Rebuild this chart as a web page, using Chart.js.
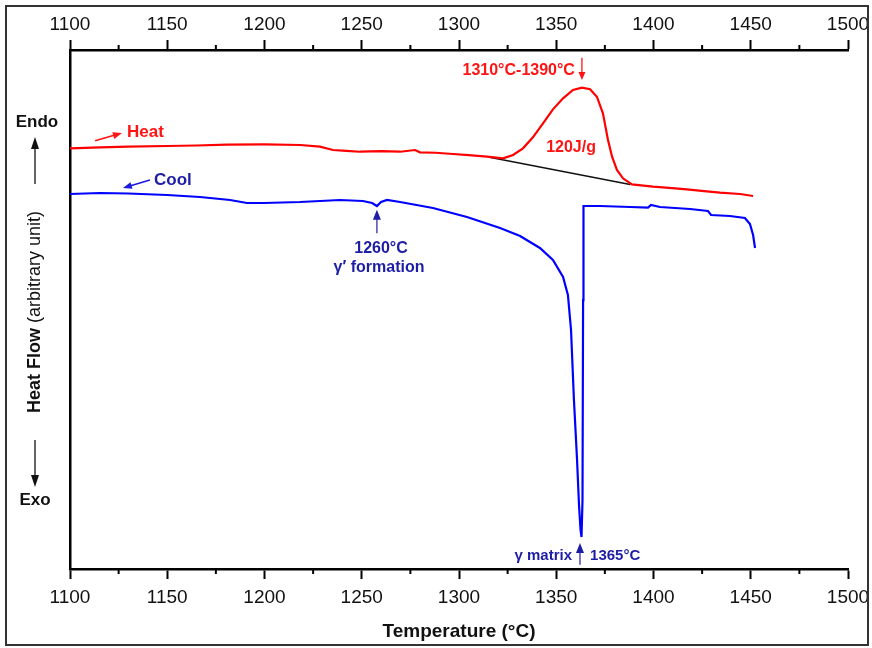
<!DOCTYPE html>
<html>
<head>
<meta charset="utf-8">
<script src="https://cdn.jsdelivr.net/npm/chart.js@4/dist/chart.umd.min.js"></script>
<style>
html,body{margin:0;padding:0;background:#fff;}
#wrap{width:872px;height:648px;}
</style>
</head>
<body>
<div id="wrap"><canvas id="c" width="872" height="648"></canvas></div>
<script>
// ---- data (temperature in °C, heat flow in arbitrary units) ----
const heatT = [1100,1115.4,1130,1149.9,1165,1180.7,1200,1218.3,1228.5,1235.2,1242,1249.1,1260,1269.7,1277.4,1279.9,1288,1296.9,1305,1314.4,1322.6,1327.8,1332.9,1338.0,1343.2,1348.3,1353.5,1358.6,1363.2,1367.4,1370.9,1374.0,1376.6,1378.7,1381.2,1384.3,1388.9,1399.7,1408,1417.2,1426,1434.2,1444.5,1451.2];
const heatV = [81.06,81.25,81.40,81.50,81.60,81.76,81.80,81.70,81.37,80.73,80.55,80.40,80.50,80.40,80.73,80.29,80.20,79.96,79.75,79.44,79.13,79.77,81.06,83.18,85.88,88.57,90.69,92.29,92.74,92.43,91.0,87.8,82.66,79.44,76.88,75.28,74.12,73.66,73.45,73.16,72.80,72.51,72.25,71.87];
const coolT = [1100,1115.4,1130,1149.9,1166.8,1182.3,1191.0,1199.7,1218.3,1238.8,1250.6,1255.3,1257.8,1259.9,1263.0,1269.7,1286.6,1304.1,1321.1,1331.4,1341.6,1348.3,1353.5,1356.0,1357.6,1359.1,1360.7,1361.7,1362.5,1363.0,1363.5,1363.8,1364.0,1372.5,1388.0,1397.2,1398.7,1403.3,1418.8,1428.0,1429.6,1439.3,1447.0,1449.6,1451.2,1452.2];
const coolV = [72.25,72.45,72.35,72.06,71.68,71.10,70.52,70.52,70.71,71.10,70.91,70.52,69.94,70.71,71.10,70.71,69.56,67.82,65.70,64.16,61.85,59.54,56.26,52.79,46.05,32.56,21.0,12.33,7.51,6.17,13.29,51.8,69.94,69.94,69.75,69.65,70.13,69.75,69.36,68.98,68.21,68.02,67.63,66.47,64.35,61.85];
const baseT = [1315,1388];
const baseV = [79.4,74.1];
const tempTicks = [1100,1150,1200,1250,1300,1350,1400,1450,1500];
const minorTicks = [1125,1175,1225,1275,1325,1375,1425,1475];

const pts = (xs, ys) => xs.map((x, i) => ({x: x, y: ys[i]}));
const FONT = "'Liberation Sans', Arial, sans-serif";
const RED = '#ff1414';
const NAVY = '#1d1da6';

function arrow(ctx, x1, y1, x2, y2, color, lw, hl, hw) {
  const a = Math.atan2(y2 - y1, x2 - x1);
  ctx.save();
  ctx.strokeStyle = color; ctx.fillStyle = color; ctx.lineWidth = lw;
  ctx.beginPath();
  ctx.moveTo(x1, y1);
  ctx.lineTo(x2 - hl * 0.8 * Math.cos(a), y2 - hl * 0.8 * Math.sin(a));
  ctx.stroke();
  ctx.beginPath();
  ctx.moveTo(x2, y2);
  ctx.lineTo(x2 - hl * Math.cos(a) + hw * Math.sin(a), y2 - hl * Math.sin(a) - hw * Math.cos(a));
  ctx.lineTo(x2 - hl * Math.cos(a) - hw * Math.sin(a), y2 - hl * Math.sin(a) + hw * Math.cos(a));
  ctx.closePath();
  ctx.fill();
  ctx.restore();
}

const decor = {
  id: 'decor',
  beforeDraw(chart) {
    const ctx = chart.ctx;
    ctx.save();
    ctx.fillStyle = '#fff';
    ctx.fillRect(0, 0, chart.width, chart.height);
    ctx.restore();
  },
  afterDraw(chart) {
    const ctx = chart.ctx;
    const xs = chart.scales.x, ys = chart.scales.y, ca = chart.chartArea;
    const X = v => xs.getPixelForValue(v), Y = v => ys.getPixelForValue(v);
    ctx.save();
    // minor ticks
    ctx.strokeStyle = '#000'; ctx.lineWidth = 2;
    minorTicks.forEach(t => {
      const px = X(t);
      ctx.beginPath(); ctx.moveTo(px, ca.top); ctx.lineTo(px, ca.top - 5); ctx.stroke();
      ctx.beginPath(); ctx.moveTo(px, ca.bottom); ctx.lineTo(px, ca.bottom + 5); ctx.stroke();
    });
    // x title
    ctx.fillStyle = '#111';
    ctx.textAlign = 'center'; ctx.textBaseline = 'middle';
    ctx.font = 'bold 19px ' + FONT;
    ctx.fillText('Temperature (\u00B0C)', (ca.left + ca.right) / 2, 632);
    // y title (rotated)
    ctx.save();
    ctx.translate(35, 312);
    ctx.rotate(-Math.PI / 2);
    ctx.font = 'bold 18px ' + FONT;
    const t1 = 'Heat Flow ';
    const w1 = ctx.measureText(t1).width;
    ctx.font = '18px ' + FONT;
    const t2 = '(arbitrary unit)';
    const w2 = ctx.measureText(t2).width;
    let sx = -(w1 + w2) / 2;
    ctx.textAlign = 'left';
    ctx.font = 'bold 18px ' + FONT;
    ctx.fillText(t1, sx, 0);
    ctx.font = '18px ' + FONT;
    ctx.fillText(t2, sx + w1, 0);
    ctx.restore();
    // Endo / Exo
    ctx.font = 'bold 17px ' + FONT;
    ctx.fillStyle = '#111';
    ctx.textAlign = 'center';
    ctx.fillText('Endo', 37, 122);
    ctx.fillText('Exo', 35, 500);
    arrow(ctx, 35, 184, 35, 137, '#111', 1.3, 12, 4);
    arrow(ctx, 35, 440, 35, 487, '#111', 1.3, 12, 4);

    // Heat / Cool labels
    ctx.font = 'bold 17px ' + FONT;
    ctx.textAlign = 'left';
    ctx.fillStyle = RED;
    ctx.fillText('Heat', X(1129.3), Y(84.2));
    arrow(ctx, X(1112.9), Y(82.5), X(1126.7), Y(84.0), RED, 1.6, 9, 3.5);
    ctx.fillStyle = NAVY;
    ctx.fillText('Cool', X(1143.2), Y(74.95));
    arrow(ctx, X(1141.1), Y(74.95), X(1127.2), Y(73.4), '#1a1ae0', 1.6, 9, 3.5);

    // peak annotation
    ctx.fillStyle = RED;
    ctx.font = 'bold 16px ' + FONT;
    ctx.textAlign = 'right';
    ctx.fillText('1310\u00B0C-1390\u00B0C', X(1359.6), Y(96.0));
    arrow(ctx, X(1363.2), Y(98.5), X(1363.2), Y(94.2), RED, 1.3, 8, 3.5);
    ctx.textAlign = 'center';
    ctx.font = 'bold 16px ' + FONT;
    ctx.fillText('120J/g', X(1357.6), Y(81.1));

    // gamma prime
    ctx.fillStyle = NAVY;
    ctx.font = 'bold 16px ' + FONT;
    ctx.textAlign = 'center';
    ctx.fillText('1260\u00B0C', X(1259.9), Y(61.8));
    ctx.fillText('\u03B3\u2032 formation', X(1258.9), Y(58.0));
    arrow(ctx, X(1257.8), Y(64.7), X(1257.8), Y(69.2), NAVY, 1.2, 10, 4);

    // gamma matrix
    ctx.font = 'bold 15px ' + FONT;
    ctx.textAlign = 'right';
    ctx.fillText('\u03B3 matrix', X(1358.1), Y(2.5));
    ctx.textAlign = 'left';
    ctx.fillText('1365\u00B0C', X(1367.4), Y(2.5));
    arrow(ctx, X(1362.2), Y(0.8), X(1362.2), Y(5.0), NAVY, 1.2, 10, 4);

    // outer frame
    ctx.strokeStyle = '#333'; ctx.lineWidth = 2;
    ctx.strokeRect(6, 6, 862, 639);
    ctx.restore();
  }
};

const axisX = (pos, h, pad, size) => ({
  type: 'linear', position: pos, min: 1100, max: 1500,
  afterFit: s => { s.height = h; s.paddingLeft = 0; s.paddingRight = 0; },
  afterBuildTicks: s => { s.ticks = tempTicks.map(v => ({value: v})); },
  ticks: { autoSkip: false, maxRotation: 0, padding: pad, color: '#111', font: {family: FONT, size: size},
           callback: v => String(v) },
  grid: { drawOnChartArea: false, drawTicks: true, tickLength: 10, tickWidth: 2, tickColor: '#000' },
  border: { display: true, color: '#000', width: 2.5 }
});

new Chart(document.getElementById('c'), {
  type: 'scatter',
  data: {
    datasets: [
      { label: 'Heat', data: pts(heatT, heatV), showLine: true, borderColor: '#ff0000', borderWidth: 2.2, pointRadius: 0, tension: 0 },
      { label: 'Cool', data: pts(coolT, coolV), showLine: true, borderColor: '#0000ff', borderWidth: 2.2, pointRadius: 0, tension: 0 },
      { label: 'Baseline', data: pts(baseT, baseV), showLine: true, borderColor: '#111', borderWidth: 1.5, pointRadius: 0 }
    ]
  },
  options: {
    responsive: false, animation: false, devicePixelRatio: 1,
    layout: { padding: { left: 0, right: 24, top: 0, bottom: 0 } },
    plugins: { legend: { display: false }, tooltip: { enabled: false } },
    scales: {
      x: axisX('bottom', 79, 7, 19),
      x2: axisX('top', 50, 4, 19),
      y: {
        type: 'linear', min: 0, max: 100,
        afterFit: s => { s.width = 70; },
        ticks: { display: false },
        grid: { display: false, drawTicks: false },
        border: { display: true, color: '#000', width: 2.5 }
      }
    }
  },
  plugins: [decor]
});
</script>
</body>
</html>
